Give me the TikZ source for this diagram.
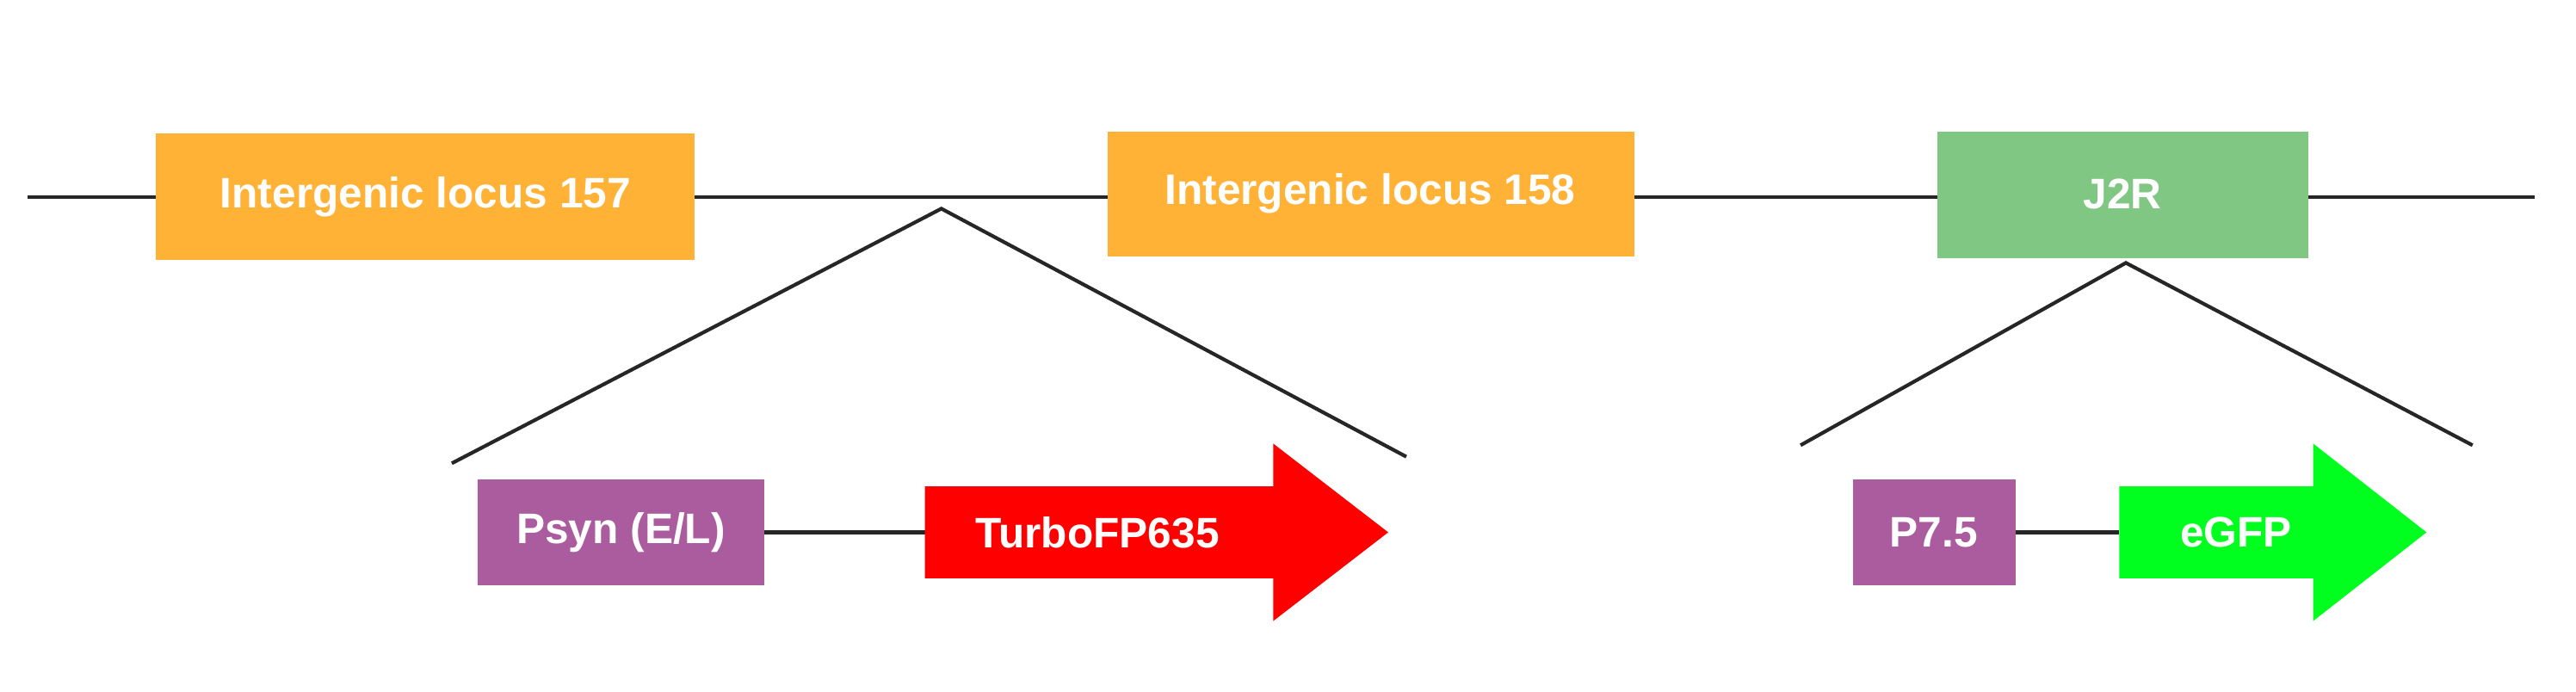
\documentclass[tikz,border=0pt]{standalone}
\usepackage{fontspec}
\setmainfont{Liberation Sans}
\definecolor{orng}{HTML}{FFB236}
\definecolor{grn}{HTML}{81C784}
\definecolor{purp}{HTML}{AB5C9E}
\definecolor{brt}{HTML}{00FF1E}
\begin{document}
\begin{tikzpicture}[x=1pt,y=-1pt,
  box/.style={inner sep=0pt,text=white,font=\fontsize{26}{30}\selectfont\bfseries},
  ln/.style={line width=2.2pt,black!85}]
\useasboundingbox (0,0) rectangle (1568,421);
\draw[ln] (17,120) -- (1543,120);
\fill[orng] (95,81) rectangle (423,158);
\node[box] (a) at (259,120) {Intergenic locus 157};
\fill[orng] (674,80) rectangle (995,156);
\node[box] (b) at (834,118) {Intergenic locus 158};
\fill[grn] (1179,80) rectangle (1405,157);
\node[box] (c) at (1292,118) {J2R};
\coordinate (p1) at (573,127);
\coordinate (p2) at (1294,160);
\draw[ln] (275,282) -- (p1) -- (856,278);
\draw[ln] (1096,271) -- (p2) -- (1505,271);
\draw[ln] (465,324) -- (563,324);
\draw[ln] (1227,324) -- (1290,324);
\fill[purp] (291,292) rectangle (465,356);
\node[box] (d) at (378,324) {Psyn (E/L)};
\fill[purp] (1128,292) rectangle (1227,356);
\node[box] (e) at (1177,324) {P7.5};
\fill[red] (563,296) -- (775,296) -- (775,270) -- (845,324) -- (775,378) -- (775,352) -- (563,352) -- cycle;
\node[box] (f) at (668,324) {TurboFP635};
\fill[brt] (1290,296) -- (1408,296) -- (1408,270) -- (1477,324) -- (1408,378) -- (1408,352) -- (1290,352) -- cycle;
\node[box] (g) at (1361,324) {eGFP};
\end{tikzpicture}
\end{document}
